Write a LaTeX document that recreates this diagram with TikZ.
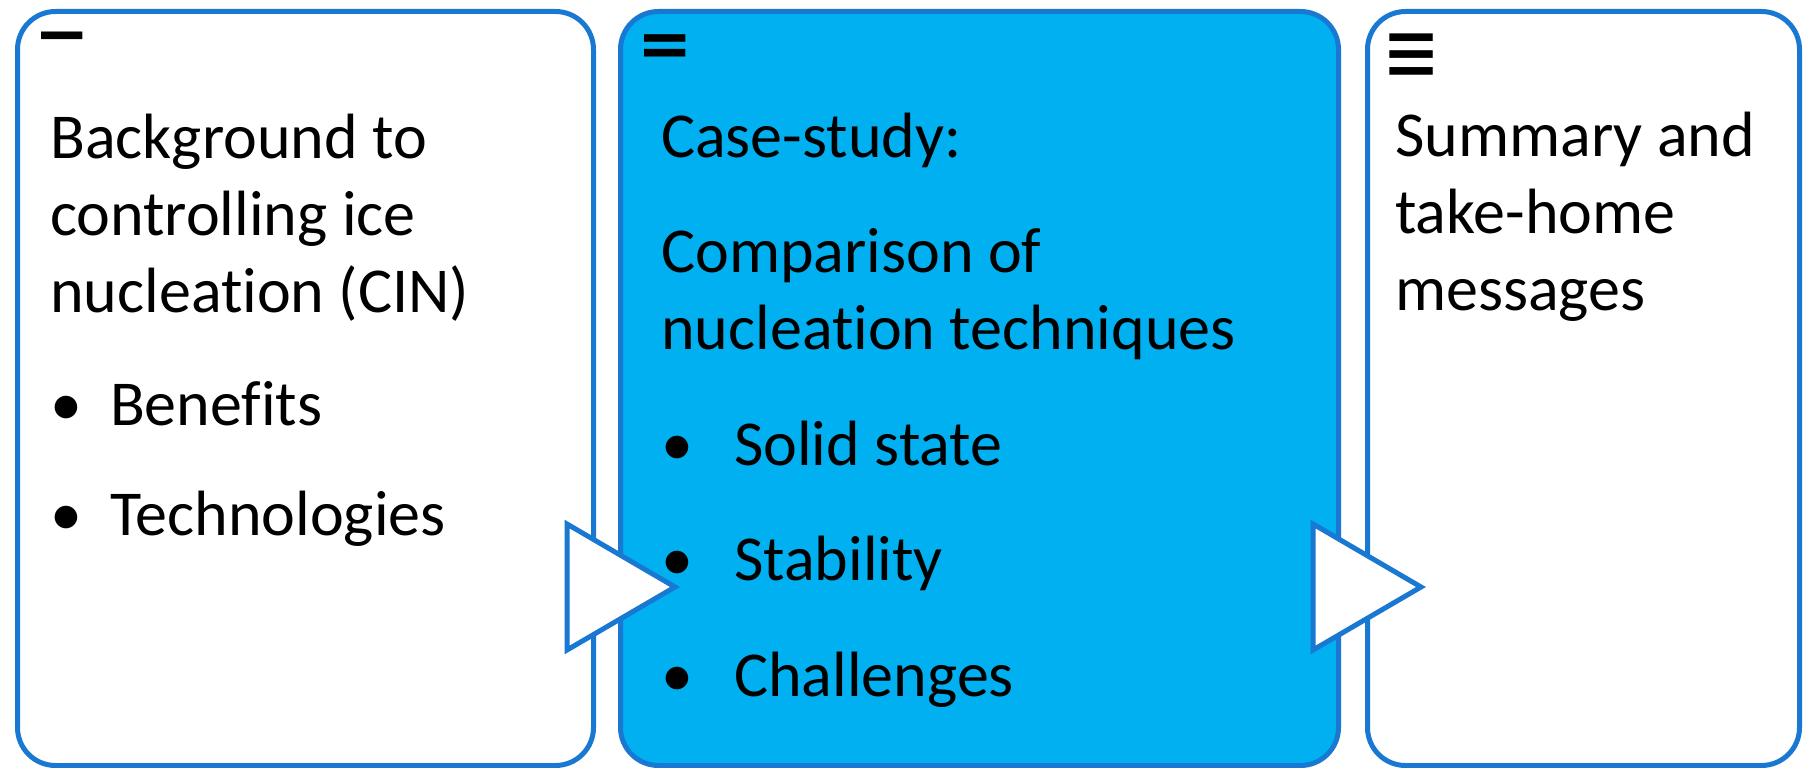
\documentclass[tikz,border=0pt]{standalone}
\usepackage{fontspec}
\setmainfont[Ligatures=NoCommon]{Carlito}
\newfontfamily\symfont{DejaVu Sans}
\usepackage{graphicx}
\usepackage{tikz}
\usetikzlibrary{calc}
\usepackage{xcolor}

\definecolor{frameblue}{RGB}{24,120,210}
\definecolor{stageblue}{RGB}{0,176,240}

% bullet followed by a fixed gap
\newcommand{\bul}[1]{\makebox[#1][l]{•}}

\tikzset{
  stage/.style={draw=frameblue,line width=5pt,rounded corners=38pt,
    fill=#1,anchor=north west,inner sep=0pt},
  % anchored on the baseline of the last line
  stagetext/.style={font=\fontsize{64}{77}\selectfont,align=left,
    inner sep=0pt,anchor=base west},
  numsym/.style={font=\symfont\bfseries\fontsize{66}{66}\selectfont,
    inner sep=0pt,anchor=north west},
  chevron/.style={draw=frameblue,line width=5pt,fill=white,line join=miter}
}

\begin{document}
\begin{tikzpicture}[x=1pt,y=-1pt]
\useasboundingbox (0,0) rectangle (1808,768);

% the three stages
\node[stage=white,minimum width=576pt,minimum height=754pt]
  (intro) at (15,9) {};
\node[stage=stageblue,minimum width=718pt,minimum height=754pt]
  (cases) at (618,9) {};
\node[stage=white,minimum width=432pt,minimum height=754pt]
  (summary) at (1365,9) {};

% stage numbers
\node[numsym] (n1) at (34,32) {−};
\node[numsym] (n2) at (637,34) {=};
\node[numsym] (n3) at (1382,34) {\mdseries\scalebox{1.05}[1.4]{≡}};

\node[stagetext] (introtext) at (50,535)
  {Background to\\controlling ice\\nucleation (CIN)\\[36pt]
   \bul{60pt}Benefits\\[33pt]\bul{60pt}Technologies};
\node[stagetext] (casestext) at (661,696)
  {Case-study:\\[38pt]Comparison of\\nucleation techniques\\[39pt]
   \bul{73pt}Solid state\\[38pt]\bul{73pt}Stability\\[39pt]
   \bul{73pt}Challenges};
\node[stagetext] (summarytext) at (1395,310)
  {Summary and\\take-home\\messages};

% chevrons between the stages
\draw[chevron] (567,524) -- (675,587) -- (567,650) -- cycle;
\draw[chevron] (1313,524) -- (1421,587) -- (1313,650) -- cycle;

\end{tikzpicture}
\end{document}
